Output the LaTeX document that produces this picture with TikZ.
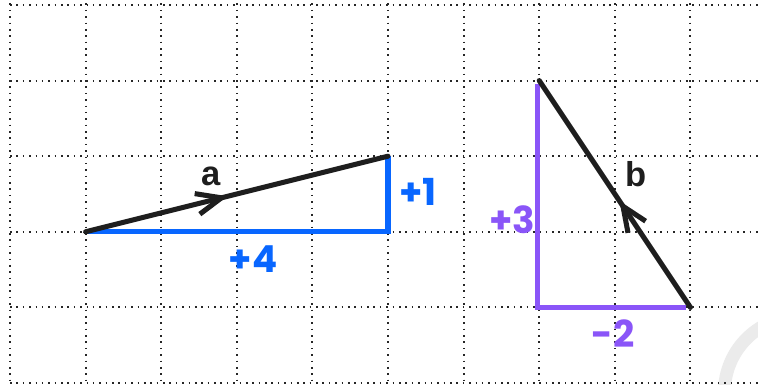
\documentclass[tikz,border=0pt]{standalone}
\usepackage{fontspec}
\setmainfont{Liberation Sans}
\newfontfamily\handfont{Poppins}
\usetikzlibrary{arrows.meta,decorations.markings}
\definecolor{vblue}{HTML}{0866FF}
\definecolor{vpurple}{HTML}{8A55F8}
\definecolor{vblack}{HTML}{1E1E1E}
\definecolor{wmark}{HTML}{EBEBEB}
\tikzset{
  gridline/.style={line width=0.7pt, dash pattern=on 0.6pt off 1.8pt, black!85},
  vec/.style={vblack, line width=1.9pt, line cap=round,
    postaction={decorate},
    decoration={markings, mark=at position 0.47 with {\arrow{Straight Barb[length=3.3mm,width=2.8mm,line width=1.9pt]}}}},
  comp/.style={line width=1.9pt, line join=miter},
  veclabel/.style={font=\fontsize{13}{13}\selectfont\bfseries, vblack, inner sep=0pt},
  handlabel/.style={font=\handfont\fontsize{14}{14}\selectfont\bfseries, inner sep=0pt}
}
\begin{document}
\begin{tikzpicture}
\clip (-0.1323,0.0661) rectangle (9.894,-5.026);
\fill[white] (-0.1323,0.0661) rectangle (9.894,-5.026);
% watermark arc
\draw[wmark, line width=0.17cm] (10.45,-5.12) circle (1.0);
% grid
\foreach \i in {0,...,9} \draw[gridline] (\i,0.02) -- (\i,-5.02);
\foreach \j in {0,...,5} \draw[gridline] (0,-\j) -- (9.9,-\j);
% points
\coordinate (a0) at (1,-3);
\coordinate (a1) at (5,-2);
\coordinate (ac) at (5,-3);
\coordinate (b0) at (9,-4);
\coordinate (b1) at (7,-1);
\coordinate (pt) at (6.98,-1.05);
\coordinate (pc) at (6.98,-4);
\coordinate (pe) at (8.94,-4);
% components
\draw[comp, vblue] (a0) -- (ac) -- (a1);
\draw[comp, vpurple] (pt) -- (pc) -- (pe);
% vectors
\draw[vec] (a0) -- (a1);
\draw[vec] (b0) -- (b1);
% labels
\node[veclabel] (la) at ({(211-10)/75.6},{-(176-5)/75.6}) {a};
\node[veclabel] (lb) at ({(636-10)/75.6},{-(174-5)/75.6}) {b};
\node[handlabel, vblue] (l1) at ({(418-10)/75.6},{-(192-5)/75.6}) {+1};
\node[handlabel, vblue] (l4) at ({(253-10)/75.6},{-(259-5)/75.6}) {+4};
\node[handlabel, vpurple] (l3) at ({(512-10)/75.6},{-(220-5)/75.6}) {+3};
\node[handlabel, vpurple] (l2) at ({(613-10)/75.6},{-(334-5)/75.6}) {-2};
\end{tikzpicture}
\end{document}
